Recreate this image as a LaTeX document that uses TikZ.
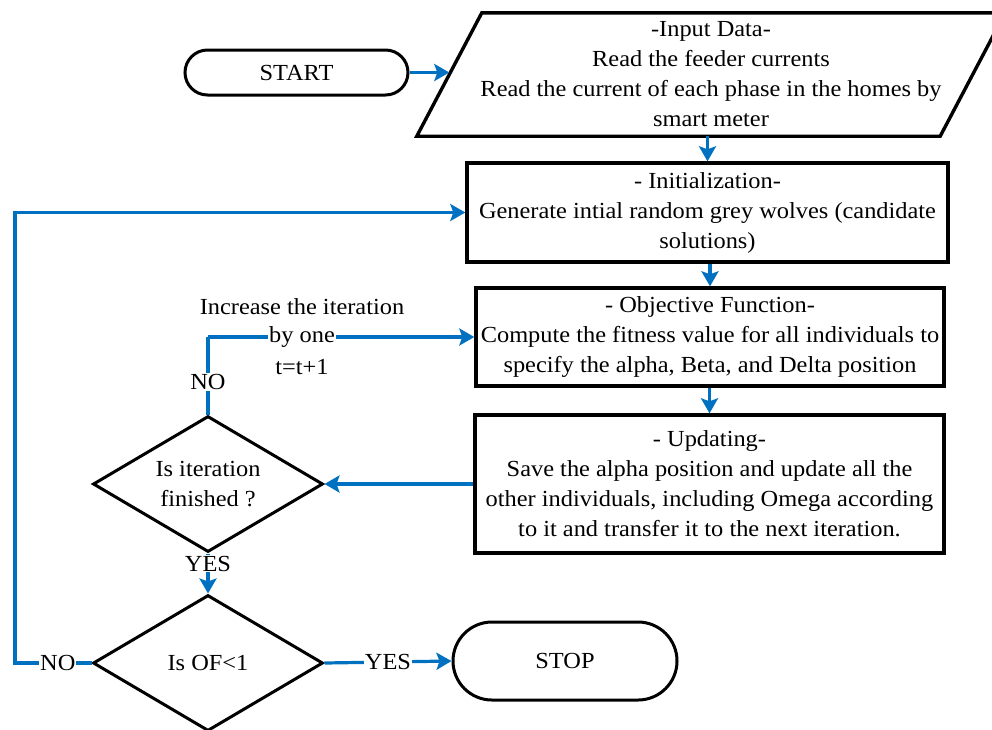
\documentclass[tikz,border=0pt]{standalone}
\usepackage{fontspec}
\setmainfont{Liberation Serif}[FakeStretch=1.06]
\usetikzlibrary{shapes.geometric,shapes.misc,arrows.meta}
\definecolor{flowblue}{RGB}{0,112,192}
\begin{document}
\begin{tikzpicture}[x=1pt,y=-1pt,
  every node/.style={font=\fontsize{23}{30}\selectfont, align=center},
  box/.style={draw=black, line width=3.4pt, rectangle, inner sep=0pt},
  term/.style={draw=black, line width=3pt, rounded rectangle, inner sep=0pt},
  decision/.style={draw=black, line width=3pt, diamond, inner sep=0pt, aspect=1.7},
  flow/.style={draw=flowblue, line width=3.2pt, -{Stealth[length=15pt,width=17pt,inset=3pt]}},
  link/.style={draw=flowblue, line width=3.2pt},
  lbl/.style={fill=white, inner sep=1pt}]
\useasboundingbox (0,0) rectangle (992,729);
\clip (0,0) rectangle (992,729);

% terminals
\node[term, minimum width=223pt, minimum height=45pt] (start) at (296.5,72.5) {START};
\node[term, minimum width=224pt, minimum height=78pt] (stop) at (565,661) {STOP};

% input data: text node with a slanted outline drawn around it
\node[minimum width=523pt, minimum height=123pt, inner sep=0pt] (input) at (711,74.5)
  {-Input Data-\\Read the feeder currents\\Read the current of each phase in the homes by\\smart meter};
\draw[line width=3.4pt, line join=miter]
  ([xshift=-32.5pt]input.south west) -- ([xshift=-32.5pt]input.south east)
  -- ([xshift=32.5pt]input.north east) -- ([xshift=32.5pt]input.north west) -- cycle;

% process boxes
\node[box, minimum width=481pt, minimum height=99pt] (init) at (707.5,212.5)
  {- Initialization-\\Generate intial random grey wolves (candidate\\solutions)};
\node[box, minimum width=468pt, minimum height=98pt] (obj) at (710,337)
  {- Objective Function-\\Compute the fitness value for all individuals to\\specify the alpha, Beta, and Delta position};
\node[box, minimum width=469pt, minimum height=138pt] (upd) at (709.5,484)
  {- Updating-\\Save the alpha position and update all the\\other individuals, including Omega according\\to it and transfer it to the next iteration.};

% decisions
\node[decision, minimum width=230pt, minimum height=136pt,
      label={center:{Is iteration\\finished ?}}] (iter) at (208,484) {\phantom{M}};
\node[decision, minimum width=230pt, minimum height=136pt,
      label={center:{Is OF<1}}] (of) at (208,663) {\phantom{M}};

% loop annotations
\node (inc) at (302,307) {Increase the iteration};
\node (tinc) at (302,367) {t=t+1};

% main flow
\draw[flow] (start.east) -- (start.east -| input.west);
\draw[flow] (input.south -| init.north) -- (init.north);
\draw[flow] (init.south -| obj.north) -- (obj.north);
\draw[flow] (obj.south -| upd.north) -- (upd.north);
\draw[flow] (upd.west |- iter.east) -- (iter.east);

% iteration loop
\coordinate (turn) at (208,337);
\draw[link] (iter.north) -- node[lbl, pos=0.42]{NO} (turn);
\draw[flow] (turn) -- node[lbl, pos=0.353]{by one} (turn -| obj.west);

% exit test
\draw[flow] (iter.south) -- node[lbl, pos=0.25]{YES} (of.north);
\draw[flow] (of.east) -- node[lbl, pos=0.5]{YES} (stop.west);
\coordinate (back) at (15,663);
\draw[flow] (of.west) -- node[lbl, pos=0.44]{NO} (back) |- (init.west);
\end{tikzpicture}
\end{document}
